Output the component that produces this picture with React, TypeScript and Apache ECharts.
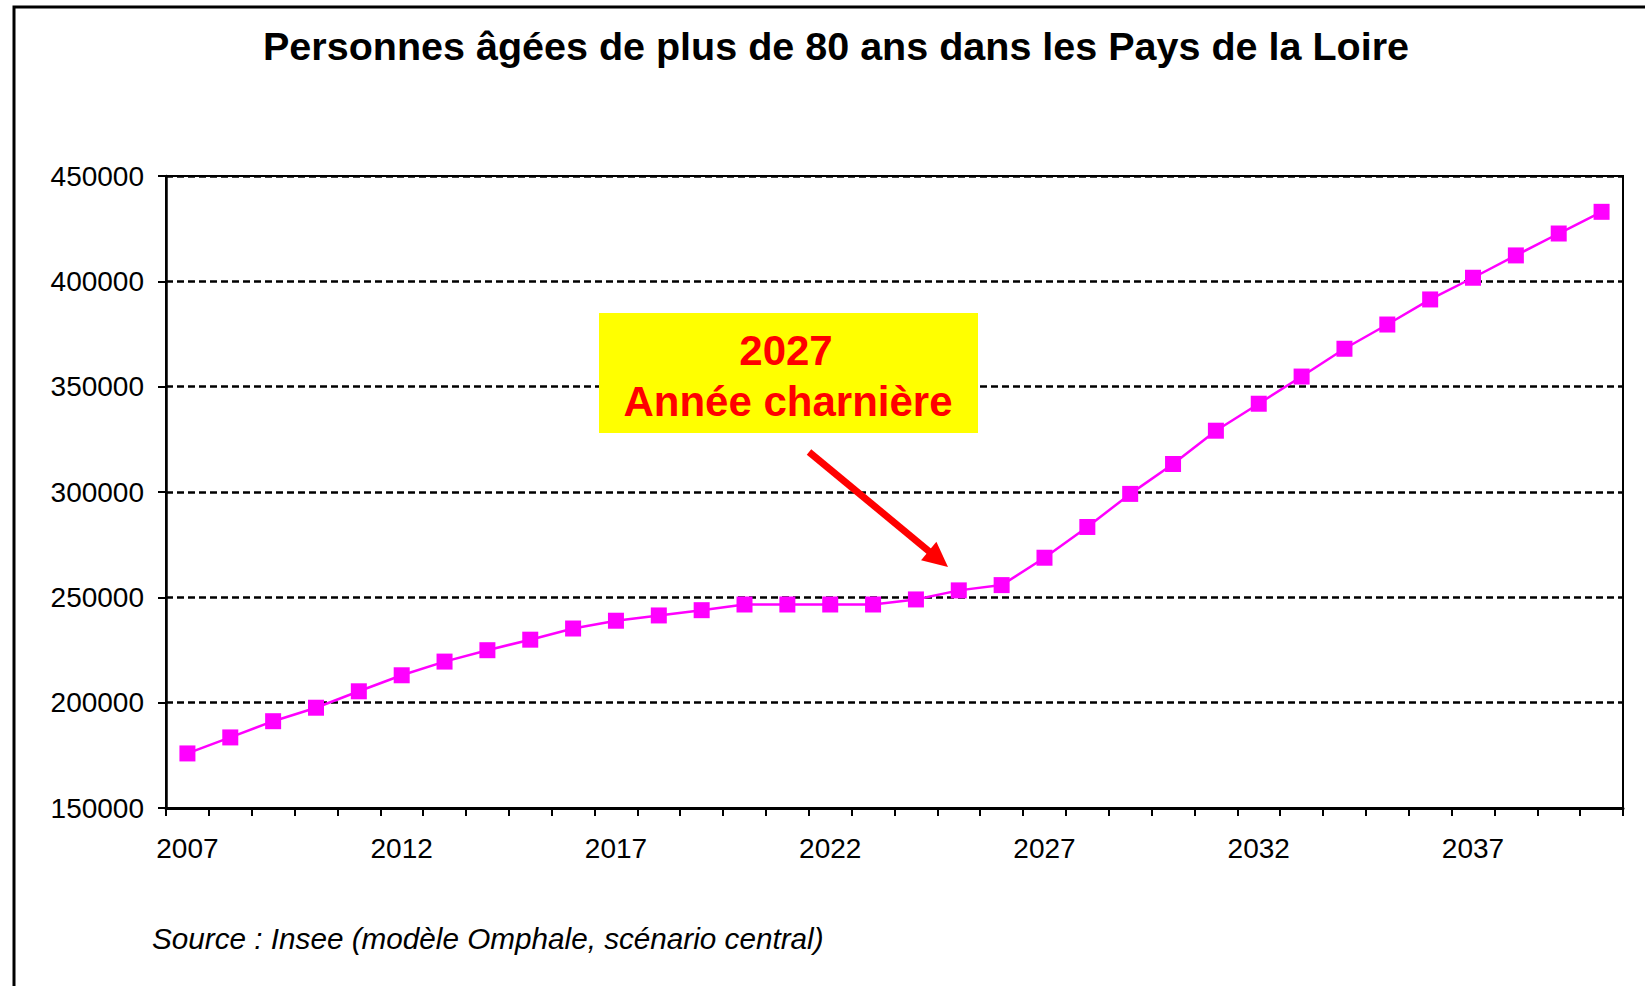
import React, { useEffect, useRef } from "react";
import * as echarts from "echarts";

const years = [
  "2007", "2008", "2009", "2010", "2011", "2012", "2013", "2014", "2015", "2016",
  "2017", "2018", "2019", "2020", "2021", "2022", "2023", "2024", "2025", "2026",
  "2027", "2028", "2029", "2030", "2031", "2032", "2033", "2034", "2035", "2036",
  "2037", "2038", "2039", "2040",
];

const population = [
  175900, 183500, 191200, 197600, 205400, 213000, 219500, 224900, 229900, 235200,
  238900, 241400, 243900, 246600, 246600, 246600, 246600, 249000, 253300, 255800,
  268800, 283400, 299100, 313300, 329100, 341900, 354800, 368000, 379500, 391400,
  401700, 412300, 422700, 433000,
];

const yMin = 150000;
const yMax = 450000;
const yStep = 50000;

const titleText = "Personnes âgées de plus de 80 ans dans les Pays de la Loire";
const sourceText = "Source : Insee (modèle Omphale, scénario central)";
const calloutYear = "2027";
const calloutLabel = "Année charnière";

const FONT = "'Liberation Sans', Arial, Helvetica, sans-serif";

export default function App() {
  const ref = useRef<HTMLDivElement>(null);

  useEffect(() => {
    if (!ref.current) return;
    const chart = echarts.init(ref.current, undefined, { renderer: "svg" });

    // arrow geometry (annotation)
    const sx = 809, sy = 452;
    const tx = 948, ty = 567;
    const dx = tx - sx, dy = ty - sy;
    const len = Math.sqrt(dx * dx + dy * dy);
    const ux = dx / len, uy = dy / len;
    const headLen = 25, headHalf = 12;
    const bx = tx - ux * headLen, by = ty - uy * headLen;
    const px = -uy, py = ux;

    chart.setOption({
      animation: false,
      backgroundColor: "#ffffff",
      title: {
        text: titleText,
        left: 831,
        top: 21,
        textAlign: "center",
        textStyle: {
          fontFamily: FONT,
          fontWeight: "bold",
          fontSize: 39.5,
          color: "#000",
        },
      },
      grid: {
        left: 166,
        right: 22,
        top: 176,
        bottom: 178,
        show: true,
        borderColor: "#000",
        borderWidth: 2,
        backgroundColor: "transparent",
        containLabel: false,
      },
      xAxis: {
        type: "category",
        data: years,
        boundaryGap: true,
        axisLine: { show: true, lineStyle: { color: "#000", width: 3 } },
        axisTick: {
          show: true,
          interval: 0,
          alignWithLabel: false,
          length: 8,
          lineStyle: { color: "#000", width: 2 },
        },
        axisLabel: {
          interval: 4,
          margin: 26,
          color: "#000",
          fontFamily: FONT,
          fontSize: 28,
        },
        splitLine: { show: false },
      },
      yAxis: {
        type: "value",
        min: yMin,
        max: yMax,
        interval: yStep,
        axisLine: { show: true, lineStyle: { color: "#000", width: 2.5 } },
        axisTick: { show: true, length: 8, lineStyle: { color: "#000", width: 2 } },
        axisLabel: {
          margin: 22,
          color: "#000",
          fontFamily: FONT,
          fontSize: 28,
          formatter: (v: number) => String(v),
        },
        splitLine: {
          show: true,
          lineStyle: { color: "#000", width: 2.5, type: [7, 4] },
        },
      },
      series: [
        {
          type: "line",
          data: population,
          symbol: "rect",
          symbolSize: 16,
          showSymbol: true,
          itemStyle: { color: "#FF00FF" },
          lineStyle: { color: "#FF00FF", width: 2.5 },
          z: 5,
        },
      ],
      graphic: [
        {
          type: "rect",
          silent: true,
          z: 1,
          shape: { x: 14, y: 7, width: 2000, height: 2000 },
          style: { fill: "none", stroke: "#000", lineWidth: 3 },
        },
        {
          type: "rect",
          z: 50,
          shape: { x: 599, y: 313, width: 379, height: 120 },
          style: { fill: "#FFFF00" },
        },
        {
          type: "text",
          z: 51,
          x: 786,
          y: 350,
          style: {
            text: calloutYear,
            fill: "#FF0000",
            font: `bold 42px ${FONT}`,
            align: "center",
            verticalAlign: "middle",
          },
        },
        {
          type: "text",
          z: 51,
          x: 788,
          y: 401,
          style: {
            text: calloutLabel,
            fill: "#FF0000",
            font: `bold 42px ${FONT}`,
            align: "center",
            verticalAlign: "middle",
          },
        },
        {
          type: "line",
          z: 52,
          shape: { x1: sx, y1: sy, x2: bx + ux * 2, y2: by + uy * 2 },
          style: { stroke: "#FF0000", lineWidth: 7, lineCap: "butt" },
        },
        {
          type: "polygon",
          z: 52,
          shape: {
            points: [
              [tx, ty],
              [bx + px * headHalf, by + py * headHalf],
              [bx - px * headHalf, by - py * headHalf],
            ],
          },
          style: { fill: "#FF0000" },
        },
        {
          type: "text",
          z: 51,
          x: 152,
          y: 938,
          style: {
            text: sourceText,
            fill: "#000",
            font: `italic 29.7px ${FONT}`,
            align: "left",
            verticalAlign: "middle",
          },
        },
      ],
    });

    return () => chart.dispose();
  }, []);

  return (
    <div
      ref={ref}
      style={{ position: "fixed", left: 0, top: 0, width: 1645, height: 986, background: "#fff" }}
    />
  );
}
